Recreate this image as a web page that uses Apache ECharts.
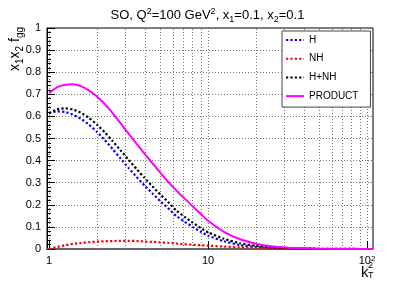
<!DOCTYPE html>
<html><head><meta charset="utf-8">
<script src="https://cdn.jsdelivr.net/npm/echarts@6/dist/echarts.min.js"></script>
<style>html,body{margin:0;padding:0;background:#fff}#c{width:415px;height:283px}</style>
</head><body><div id="c"></div>
<script>
const kT2 = [1, 1.12, 1.26, 1.41, 1.58, 1.78, 2, 2.24, 2.51, 2.82, 3.16, 3.55, 3.98, 4.47, 5, 5.6, 6.3, 7.1, 8, 9, 10, 12.6, 15.8, 20, 25, 32, 50, 100, 109];
const H = [0.615, 0.623, 0.620, 0.608, 0.590, 0.563, 0.530, 0.493, 0.452, 0.409, 0.367, 0.326, 0.288, 0.251, 0.217, 0.185, 0.150, 0.124, 0.100, 0.078, 0.060, 0.035, 0.018, 0.009, 0.004, 0.002, 0, 0, 0];
const NH = [0, 0.009, 0.017, 0.023, 0.027, 0.031, 0.033, 0.035, 0.036, 0.037, 0.037, 0.036, 0.034, 0.032, 0.030, 0.028, 0.025, 0.022, 0.019, 0.017, 0.015, 0.011, 0.008, 0.005, 0.003, 0.002, 0.001, 0, 0];
const HNH = [0.615, 0.632, 0.637, 0.631, 0.617, 0.594, 0.563, 0.528, 0.488, 0.446, 0.404, 0.362, 0.322, 0.283, 0.247, 0.213, 0.175, 0.146, 0.119, 0.095, 0.075, 0.046, 0.026, 0.014, 0.007, 0.004, 0.001, 0, 0];
const PRODUCT = [0.705, 0.731, 0.743, 0.745, 0.737, 0.718, 0.690, 0.656, 0.615, 0.568, 0.522, 0.476, 0.432, 0.388, 0.346, 0.305, 0.266, 0.229, 0.193, 0.158, 0.128, 0.078, 0.045, 0.024, 0.012, 0.006, 0.001, 0, 0];
const xMinorGrid = [2, 3, 4, 5, 6, 7, 8, 9, 20, 30, 40, 50, 60, 70, 80, 90];
const seriesNames = ['H', 'NH', 'H+NH', 'PRODUCT'];

const FONT = 'Liberation Sans';
const chart = echarts.init(document.getElementById('c'), null, {renderer: 'canvas'});
const pair = arr => kT2.map((k, i) => [k, arr[i]]);
const dotted = (color) => ({color: color, width: 2.2, type: [2.2, 2.2], cap: 'butt'});
const gridDot = {color: '#777', width: 1, type: [1, 2]};

function mk(name, arr, ls, extra) {
  return Object.assign({
    name: name, type: 'line', data: pair(arr), symbol: 'none', smooth: 0.15,
    lineStyle: ls, itemStyle: {color: ls.color}, silent: true
  }, extra || {});
}

const option = {
  animation: false,
  backgroundColor: '#fff',
  title: {
    text: 'SO, Q{sup|2}=100 GeV{sup|2}, x{sub|1}=0.1, x{sub|2}=0.1',
    left: 'center', top: 2,
    textStyle: {
      fontFamily: FONT, fontSize: 13, fontWeight: 'normal', color: '#000', lineHeight: 17,
      rich: {
        sup: {fontFamily: FONT, fontSize: 9, verticalAlign: 'top', lineHeight: 9, color: '#000'},
        sub: {fontFamily: FONT, fontSize: 9, verticalAlign: 'bottom', lineHeight: 9, color: '#000'}
      }
    }
  },
  grid: {left: 47, right: 42, top: 28, bottom: 34, show: true, borderColor: '#000', borderWidth: 1, backgroundColor: '#fff'},
  legend: {
    data: seriesNames, orient: 'vertical', left: 282, top: 31,
    itemWidth: 18, itemHeight: 10, itemGap: 8.7,
    padding: [4, 12, 6, 3],
    itemStyle: {opacity: 0},
    backgroundColor: '#fff', borderColor: '#444', borderWidth: 1,
    textStyle: {fontFamily: FONT, fontSize: 10, color: '#000'},
    selectedMode: false
  },
  xAxis: {
    type: 'log', logBase: 10, min: 0.97, max: 109,
    axisLine: {show: true, lineStyle: {color: '#666', width: 2}},
    axisTick: {show: true, inside: true, length: 8, lineStyle: {color: '#000'}},
    splitLine: {show: true, lineStyle: gridDot},
    axisLabel: {
      showMinLabel: false, showMaxLabel: false, margin: 6,
      fontFamily: FONT, fontSize: 11, color: '#000',
      formatter: v => (Math.abs(v - 100) < 1e-6 ? '10{sup|2}' : String(Math.round(v))),
      rich: {sup: {fontFamily: FONT, fontSize: 8, verticalAlign: 'top', lineHeight: 8, color: '#000'}}
    }
  },
  yAxis: {
    type: 'value', min: 0, max: 1, interval: 0.1,
    axisLine: {show: true, lineStyle: {color: '#000', width: 1}},
    axisTick: {show: true, inside: true, length: 8, lineStyle: {color: '#000'}},
    minorTick: {show: true, splitNumber: 5, length: 4, lineStyle: {color: '#000'}},
    splitLine: {show: true, lineStyle: gridDot},
    axisLabel: {fontFamily: FONT, fontSize: 11, color: '#000', margin: 6}
  },
  graphic: [
    {
      type: 'text', x: 15, y: 27, rotation: Math.PI / 2,
      style: {
        text: 'x{sub|1}x{sub|2} f{sub|gg}', textAlign: 'right', textVerticalAlign: 'middle',
        fontFamily: FONT, fontSize: 14, fill: '#000', lineHeight: 20,
        rich: {sub: {fontFamily: FONT, fontSize: 10, verticalAlign: 'bottom', lineHeight: 10, fill: '#000'}}
      }
    },
    {type: 'text', x: 361, y: 265, style: {text: 'k', fontFamily: FONT, fontSize: 15, fill: '#000'}},
    {type: 'text', x: 368, y: 261, style: {text: '2', fontFamily: FONT, fontSize: 9, fill: '#000'}},
    {type: 'text', x: 368, y: 271, style: {text: 'T', fontFamily: FONT, fontSize: 9, fill: '#000'}}
  ],
  series: [
    mk('H', H, dotted('#0000ff'), {
      markLine: {
        silent: true, symbol: 'none', label: {show: false}, animation: false,
        lineStyle: gridDot, z: 1,
        data: xMinorGrid.map(v => ({xAxis: v}))
      }
    }),
    mk('NH', NH, dotted('#ff0000')),
    mk('H+NH', HNH, dotted('#000000')),
    mk('PRODUCT', PRODUCT, {color: '#ff00ff', width: 2, type: 'solid'})
  ]
};
chart.setOption(option);
</script></body></html>
